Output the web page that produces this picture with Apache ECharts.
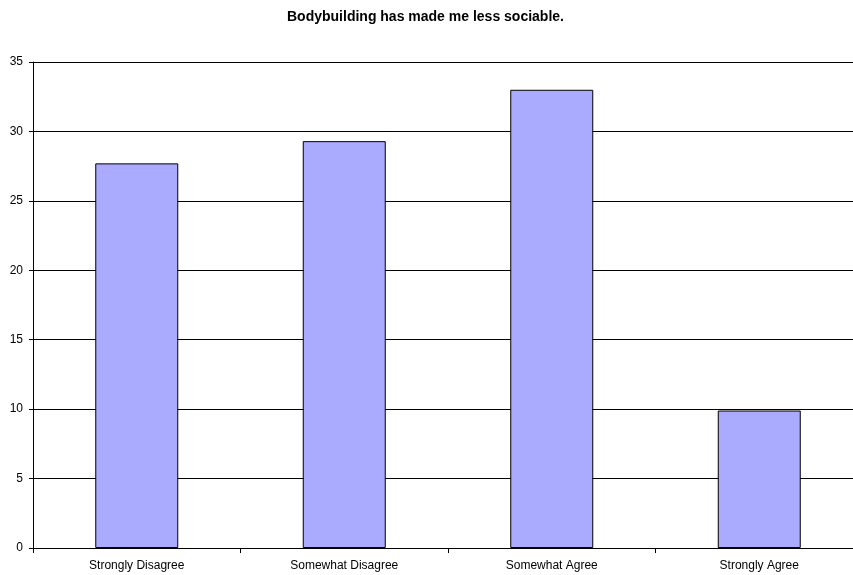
<!DOCTYPE html>
<html>
<head>
<meta charset="utf-8">
<script src="https://cdn.jsdelivr.net/npm/echarts@6/dist/echarts.min.js"></script>
<style>
html,body{margin:0;padding:0;background:#fff;overflow:hidden;width:853px;height:575px;}
/* the plot area continues a little past the visible right edge */
#chart{width:863px;height:575px;}
</style>
</head>
<body>
<div id="chart"></div>
<script>
// Survey responses (percent of respondents)
const categories = ['Strongly Disagree', 'Somewhat Disagree', 'Somewhat Agree', 'Strongly Agree'];
const percentages = [27.7, 29.3, 33.0, 9.9];
const yTicks = { min: 0, max: 35, interval: 5 };

const chart = echarts.init(document.getElementById('chart'));
chart.setOption({
  animation: false,
  backgroundColor: '#ffffff',
  title: {
    text: 'Bodybuilding has made me less sociable.',
    left: 282,
    top: 5,
    textStyle: { fontFamily: 'Liberation Sans, Arial', fontSize: 14, fontWeight: 'bold', color: '#000' }
  },
  grid: { left: 33, right: 0, top: 62, bottom: 27, containLabel: false },
  xAxis: {
    type: 'category',
    data: categories,
    axisLine: { lineStyle: { color: '#000', width: 1 } },
    axisTick: { show: true, alignWithLabel: false, length: 5, lineStyle: { color: '#000' } },
    axisLabel: { color: '#000', fontFamily: 'Liberation Sans, Arial', fontSize: 12, margin: 12 }
  },
  yAxis: {
    type: 'value',
    min: yTicks.min,
    max: yTicks.max,
    interval: yTicks.interval,
    axisLine: { show: true, lineStyle: { color: '#000', width: 1 } },
    axisTick: { show: true, length: 4, lineStyle: { color: '#000' } },
    axisLabel: { color: '#000', fontFamily: 'Liberation Sans, Arial', fontSize: 12, margin: 10 },
    splitLine: { show: true, lineStyle: { color: '#000', width: 1 } }
  },
  series: [{
    type: 'bar',
    data: percentages,
    barWidth: '40%',
    itemStyle: { color: '#AAAAFF', borderColor: '#000', borderWidth: 1 }
  }]
});
</script>
</body>
</html>
